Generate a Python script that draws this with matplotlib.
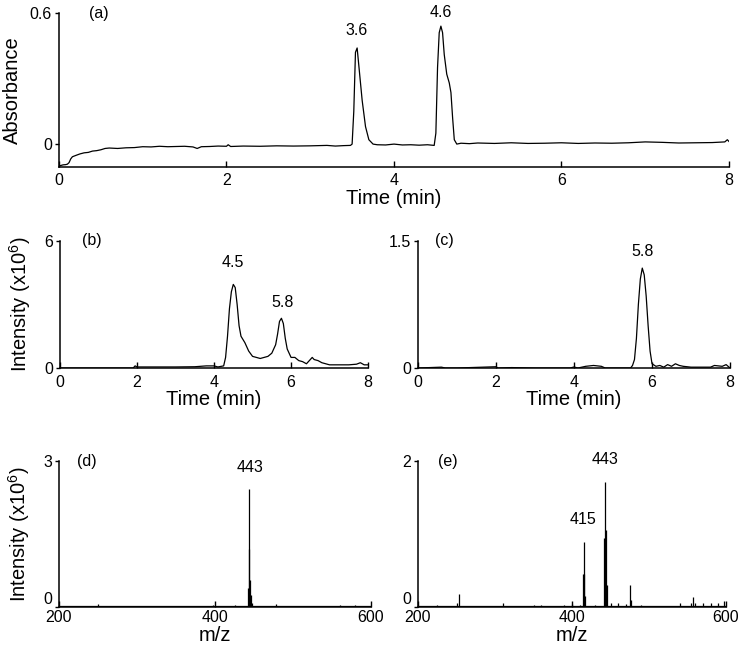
import matplotlib
matplotlib.use('Agg')
import matplotlib.pyplot as plt

plt.rcParams['font.family'] = ['Liberation Sans', 'DejaVu Sans']
plt.rcParams['mathtext.fontset'] = 'custom'
plt.rcParams['mathtext.rm'] = 'Liberation Sans'
plt.rcParams['mathtext.it'] = 'Liberation Sans:italic'

# (a) UV absorbance chromatogram
t_a = [0.0, 0.02, 0.05, 0.08, 0.10, 0.12, 0.14, 0.16, 0.20, 0.25, 0.30, 0.35, 0.40,
       0.45, 0.50, 0.55, 0.60, 0.70, 0.80, 0.90, 1.00, 1.10, 1.20, 1.30, 1.40, 1.50,
       1.60, 1.65, 1.70, 1.80, 1.90, 2.00, 2.02, 2.05, 2.20, 2.40, 2.60, 2.80, 3.00,
       3.20, 3.30, 3.40, 3.48, 3.50, 3.52, 3.54, 3.56, 3.58, 3.62, 3.66, 3.70, 3.75,
       3.80, 3.90, 4.00, 4.10, 4.20, 4.30, 4.40, 4.48, 4.50, 4.52, 4.54, 4.56, 4.58,
       4.60, 4.63, 4.66, 4.68, 4.70, 4.72, 4.75, 4.80, 4.90, 5.00, 5.20, 5.40, 5.60,
       5.80, 6.00, 6.20, 6.40, 6.60, 6.80, 7.00, 7.20, 7.40, 7.60, 7.80, 7.95, 7.98, 8.00]
abs_a = [-0.100, -0.098, -0.095, -0.094, -0.092, -0.085, -0.068, -0.058, -0.052, -0.045,
         -0.040, -0.038, -0.032, -0.030, -0.026, -0.020, -0.018, -0.020, -0.017, -0.016,
         -0.012, -0.013, -0.010, -0.012, -0.011, -0.010, -0.013, -0.020, -0.012, -0.011,
         -0.009, -0.010, -0.003, -0.011, -0.009, -0.010, -0.008, -0.009, -0.008, -0.006,
         -0.009, -0.007, -0.006, 0.000, 0.150, 0.420, 0.440, 0.360, 0.200, 0.080, 0.020,
         0.000, -0.003, -0.004, 0.000, -0.004, -0.003, -0.005, -0.003, -0.006, 0.050,
         0.350, 0.510, 0.540, 0.510, 0.410, 0.320, 0.280, 0.236, 0.120, 0.020, 0.000,
         0.004, 0.002, 0.005, 0.003, 0.006, 0.003, 0.004, 0.006, 0.003, 0.005, 0.004,
         0.006, 0.010, 0.008, 0.005, 0.006, 0.007, 0.010, 0.020, 0.012]

# (b) MS total ion chromatogram (x10^6)
t_b = [0.0, 1.90, 1.95, 2.00, 2.50, 3.00, 3.50, 3.80, 4.00, 4.10, 4.25, 4.30, 4.35,
       4.40, 4.45, 4.50, 4.55, 4.60, 4.65, 4.70, 4.80, 4.90, 5.00, 5.10, 5.20, 5.30,
       5.40, 5.50, 5.60, 5.65, 5.70, 5.75, 5.80, 5.85, 5.90, 6.00, 6.10, 6.20, 6.30,
       6.40, 6.50, 6.55, 6.60, 6.70, 6.80, 7.00, 7.30, 7.50, 7.70, 7.80, 7.90, 8.00]
int_b = [0.0, 0.0, 0.10, 0.05, 0.05, 0.05, 0.06, 0.10, 0.10, 0.05, 0.10, 0.50, 1.50,
         2.80, 3.60, 3.95, 3.80, 3.00, 2.00, 1.50, 1.20, 0.80, 0.55, 0.50, 0.45, 0.50,
         0.55, 0.70, 1.10, 1.60, 2.20, 2.35, 2.10, 1.40, 0.90, 0.50, 0.50, 0.35, 0.30,
         0.20, 0.40, 0.50, 0.40, 0.35, 0.25, 0.15, 0.15, 0.15, 0.18, 0.25, 0.15, 0.15]

# (c) extracted ion chromatogram (x10^6)
t_c = [0.0, 0.60, 0.70, 1.00, 2.00, 2.05, 2.40, 3.00, 3.90, 4.00, 4.10, 4.30, 4.50,
       4.70, 4.80, 5.30, 5.45, 5.50, 5.55, 5.60, 5.65, 5.70, 5.75, 5.80, 5.85, 5.90,
       5.95, 6.00, 6.10, 6.20, 6.30, 6.40, 6.50, 6.60, 6.70, 6.80, 7.00, 7.50, 7.60,
       7.80, 7.90, 8.00]
int_c = [0.0, 0.010, 0.0, 0.0, 0.015, 0.0, 0.005, 0.0, 0.0, 0.012, 0.0, 0.020, 0.030,
         0.020, 0.0, 0.0, 0.0, 0.030, 0.10, 0.35, 0.75, 1.05, 1.18, 1.10, 0.85, 0.50,
         0.20, 0.05, 0.02, 0.03, 0.01, 0.04, 0.02, 0.05, 0.03, 0.02, 0.01, 0.01, 0.03,
         0.02, 0.04, 0.0]

# (d) mass spectrum (x10^6)
mz_d = [245, 250, 398, 405, 410, 425, 442, 443, 444, 445, 446, 447, 450, 460, 465,
        478, 530, 560, 565, 575, 580, 585]
int_d = [0.03, 0.06, 0.04, 0.03, 0.03, 0.04, 0.40, 2.42, 1.20, 0.55, 0.25, 0.08, 0.03,
         0.02, 0.03, 0.06, 0.02, 0.04, 0.03, 0.03, 0.04, 0.03]

# (e) mass spectrum (x10^6)
mz_e = [225, 250, 253, 310, 350, 360, 390, 400, 410, 414, 415, 416, 417, 430, 442,
        443, 444, 445, 450, 460, 470, 475, 476, 490, 540, 555, 557, 560, 570, 580,
        590, 598]
int_e = [0.03, 0.05, 0.18, 0.05, 0.03, 0.03, 0.03, 0.04, 0.03, 0.45, 0.89, 0.45, 0.15,
         0.03, 0.95, 1.71, 1.05, 0.30, 0.05, 0.05, 0.04, 0.30, 0.10, 0.03, 0.05, 0.06,
         0.14, 0.06, 0.05, 0.06, 0.05, 0.08]

fig = plt.figure(figsize=(7.41, 6.54), dpi=100)

tick_fs = 11.5
lab_fs = 14.5
ann_fs = 11.5
lw = 0.9

def style(ax, xlim, ylim, xticks, yticks, yticklabels, xpad):
    for s in ['top', 'right']:
        ax.spines[s].set_visible(False)
    for s in ['left', 'bottom']:
        ax.spines[s].set_linewidth(1.1)
    ax.set_xlim(*xlim)
    ax.set_ylim(*ylim)
    ax.set_xticks(xticks)
    ax.set_yticks(yticks)
    ax.set_yticklabels(yticklabels)
    ax.tick_params(axis='x', direction='in', length=4, width=1, labelsize=tick_fs, pad=xpad)
    ax.tick_params(axis='y', direction='out', length=3, width=1, labelsize=tick_fs, pad=2)

ax_a = fig.add_axes([0.0796, 0.7446, 0.9042, 0.2355])
ax_a.plot(t_a, abs_a, color='black', linewidth=lw)
style(ax_a, (0, 8), (-0.105, 0.6), [0, 2, 4, 6, 8], [0, 0.6], ['0', '0.6'], 4)
ax_a.set_xlabel('Time (min)', fontsize=lab_fs, labelpad=1)
ax_a.set_ylabel('Absorbance', fontsize=lab_fs, labelpad=6)
ax_a.text(0.36, 0.6, '(a)', fontsize=ann_fs, va='center')
ax_a.text(3.55, 0.486, '3.6', fontsize=ann_fs, ha='center', va='bottom')
ax_a.text(4.56, 0.568, '4.6', fontsize=ann_fs, ha='center', va='bottom')

ax_b = fig.add_axes([0.0810, 0.4373, 0.4157, 0.1942])
ax_b.plot(t_b, int_b, color='black', linewidth=lw)
style(ax_b, (0, 8), (0, 6), [0, 2, 4, 6, 8], [0, 6], ['0', '6'], 5)
ax_b.set_xlabel('Time (min)', fontsize=lab_fs, labelpad=0)
ax_b.set_ylabel('Intensity (x10$^6$)', fontsize=lab_fs, labelpad=8)
ax_b.text(0.57, 6.0, '(b)', fontsize=ann_fs, va='center')
ax_b.text(4.49, 4.63, '4.5', fontsize=ann_fs, ha='center', va='bottom')
ax_b.text(5.77, 2.74, '5.8', fontsize=ann_fs, ha='center', va='bottom')

ax_c = fig.add_axes([0.5641, 0.4373, 0.4211, 0.1942])
ax_c.plot(t_c, int_c, color='black', linewidth=lw)
style(ax_c, (0, 8), (0, 1.5), [0, 2, 4, 6, 8], [0, 1.5], ['0', '1.5'], 5)
ax_c.set_xlabel('Time (min)', fontsize=lab_fs, labelpad=0)
ax_c.text(0.44, 1.5, '(c)', fontsize=ann_fs, va='center')
ax_c.text(5.77, 1.29, '5.8', fontsize=ann_fs, ha='center', va='bottom')

ax_d = fig.add_axes([0.0796, 0.0719, 0.4211, 0.2232])
ax_d.vlines(mz_d, 0, int_d, color='black', linewidth=lw)
ax_d.axhline(0.01, color='black', linewidth=lw)
style(ax_d, (200, 600), (0, 3), [200, 400, 600], [0, 3], ['0', '3'], 2)
ax_d.set_xlabel('m/z', fontsize=lab_fs, labelpad=1)
ax_d.set_ylabel('Intensity (x10$^6$)', fontsize=lab_fs, labelpad=8)
ax_d.text(223, 3.0, '(d)', fontsize=ann_fs, va='center')
ax_d.text(445, 2.71, '443', fontsize=ann_fs, ha='center', va='bottom')

ax_e = fig.add_axes([0.5641, 0.0719, 0.4157, 0.2232])
ax_e.vlines(mz_e, 0, int_e, color='black', linewidth=lw)
ax_e.axhline(0.01, color='black', linewidth=lw)
style(ax_e, (200, 600), (0, 2), [200, 400, 600], [0, 2], ['0', '2'], 2)
ax_e.set_xlabel('m/z', fontsize=lab_fs, labelpad=1)
ax_e.text(226, 2.0, '(e)', fontsize=ann_fs, va='center')
ax_e.text(443, 1.92, '443', fontsize=ann_fs, ha='center', va='bottom')
ax_e.text(414, 1.10, '415', fontsize=ann_fs, ha='center', va='bottom')

# lift the "0" y tick label so it sits above the first x tick label
for ax in [ax_d, ax_e]:
    ax.get_yticklabels()[0].set_verticalalignment('bottom')

fig.savefig('out.png', dpi=100)
